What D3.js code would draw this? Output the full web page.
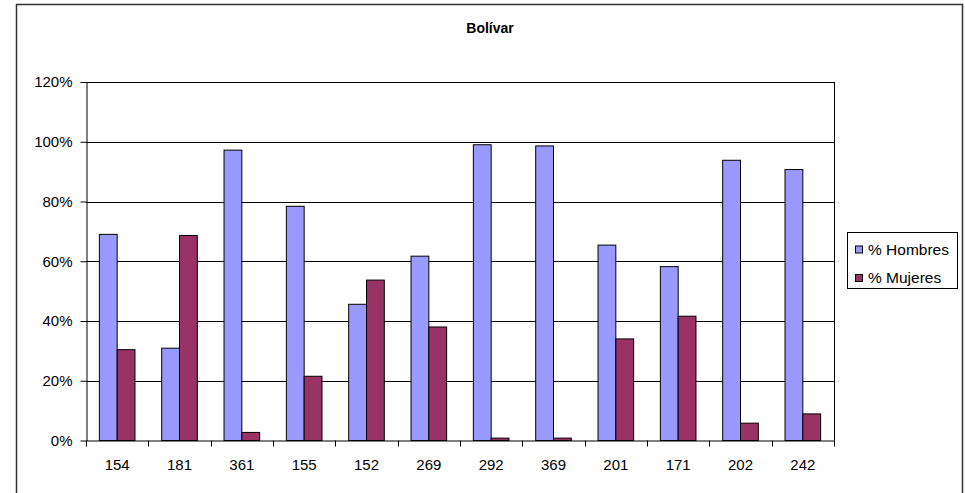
<!DOCTYPE html>
<html>
<head>
<meta charset="utf-8">
<script src="https://cdn.jsdelivr.net/npm/d3@7"></script>
<style>
  html, body { margin: 0; padding: 0; background: #fff; }
  svg { display: block; font-family: "Liberation Sans", Arial, sans-serif; }
</style>
</head>
<body>
<svg id="chart" width="965" height="493"></svg>
<script>
const title = "Bolívar";
const categories = ["154", "181", "361", "155", "152", "269", "292", "369", "201", "171", "202", "242"];
const seriesNames = ["% Hombres", "% Mujeres"];
const hombres = [0.690, 0.309, 0.972, 0.784, 0.456, 0.617, 0.990, 0.986, 0.654, 0.582, 0.938, 0.907];
const mujeres = [0.304, 0.686, 0.027, 0.215, 0.537, 0.380, 0.008, 0.008, 0.340, 0.416, 0.058, 0.089];
const yTicks = [0, 0.2, 0.4, 0.6, 0.8, 1.0, 1.2];
const colors = ["#9999FF", "#993366"];

const svg = d3.select("#chart");
const FONT = "Liberation Sans, Arial, sans-serif";

// outer chart border
svg.append("rect")
  .attr("x", 16.5).attr("y", 4.5)
  .attr("width", 946).attr("height", 500)
  .attr("fill", "#fff").attr("stroke", "#333").attr("stroke-width", 1.5);

svg.append("text")
  .attr("x", 490).attr("y", 33)
  .attr("text-anchor", "middle")
  .attr("font-size", 14).attr("font-weight", "bold")
  .text(title);

const plot = { left: 86, right: 834, top: 82, bottom: 440.5 };

const x = d3.scaleBand().domain(categories).range([plot.left, plot.right]).paddingInner(0).paddingOuter(0);
const y = d3.scaleLinear().domain([0, 1.2]).range([plot.bottom, plot.top]);

// gridlines
svg.append("g").selectAll("line").data(yTicks.filter(d => d > 0)).join("line")
  .attr("x1", plot.left).attr("x2", plot.right)
  .attr("y1", d => Math.round(y(d)) + 0.5).attr("y2", d => Math.round(y(d)) + 0.5)
  .attr("stroke", "#000").attr("stroke-width", 1);

// plot border (right side)
svg.append("line")
  .attr("x1", plot.right + 0.5).attr("x2", plot.right + 0.5)
  .attr("y1", plot.top).attr("y2", plot.bottom)
  .attr("stroke", "#000");

// bars (gap width 150%)
const bw = x.bandwidth() / 3.5;
const data = categories.map((c, i) => ({ c, vals: [hombres[i], mujeres[i]] }));
const groups = svg.append("g").selectAll("g").data(data).join("g");
groups.selectAll("rect").data(d => d.vals.map((v, k) => ({ c: d.c, v, k }))).join("rect")
  .attr("x", d => x(d.c) + (x.bandwidth() - 2 * bw) / 2 + d.k * bw)
  .attr("y", d => y(d.v))
  .attr("width", bw)
  .attr("height", d => plot.bottom - y(d.v))
  .attr("fill", d => colors[d.k])
  .attr("stroke", "#000").attr("stroke-width", 1);

// y axis
const yAxis = d3.axisLeft(y).tickValues(yTicks).tickFormat(d3.format(".0%")).tickSize(6).tickSizeOuter(0);
const gy = svg.append("g").attr("transform", `translate(${plot.left + 0.5},0)`).call(yAxis);
gy.selectAll("text").attr("font-size", 15).attr("fill", "#000").attr("font-family", FONT).attr("x", -14);
gy.selectAll("line").attr("stroke", "#000");
gy.select(".domain").attr("stroke", "#000");

// x axis
const xAxis = d3.axisBottom(x).tickSize(0).tickSizeOuter(0);
const gx = svg.append("g").attr("transform", `translate(0,${plot.bottom})`).call(xAxis);
gx.selectAll("text").attr("font-size", 15).attr("fill", "#000").attr("font-family", FONT)
  .attr("y", 29).attr("dy", null);
gx.select(".domain").attr("stroke", "#000");
// tick marks between categories
gx.append("g").selectAll("line").data(categories.concat(["end"])).join("line")
  .attr("x1", (d, i) => Math.round(plot.left + i * x.step()) + 0.5)
  .attr("x2", (d, i) => Math.round(plot.left + i * x.step()) + 0.5)
  .attr("y1", 0).attr("y2", 6)
  .attr("stroke", "#000");

// legend
const lg = svg.append("g");
lg.append("rect")
  .attr("x", 847.5).attr("y", 232.5).attr("width", 110).attr("height", 56)
  .attr("fill", "#fff").attr("stroke", "#000");
seriesNames.forEach((name, i) => {
  const cy = 249.5 + i * 28.5;
  lg.append("rect")
    .attr("x", 855.5).attr("y", cy - 3.5).attr("width", 7).attr("height", 7)
    .attr("fill", colors[i]).attr("stroke", "#000");
  lg.append("text")
    .attr("x", 868).attr("y", cy + 5)
    .attr("font-size", 15.5)
    .text(name);
});
</script>
</body>
</html>
